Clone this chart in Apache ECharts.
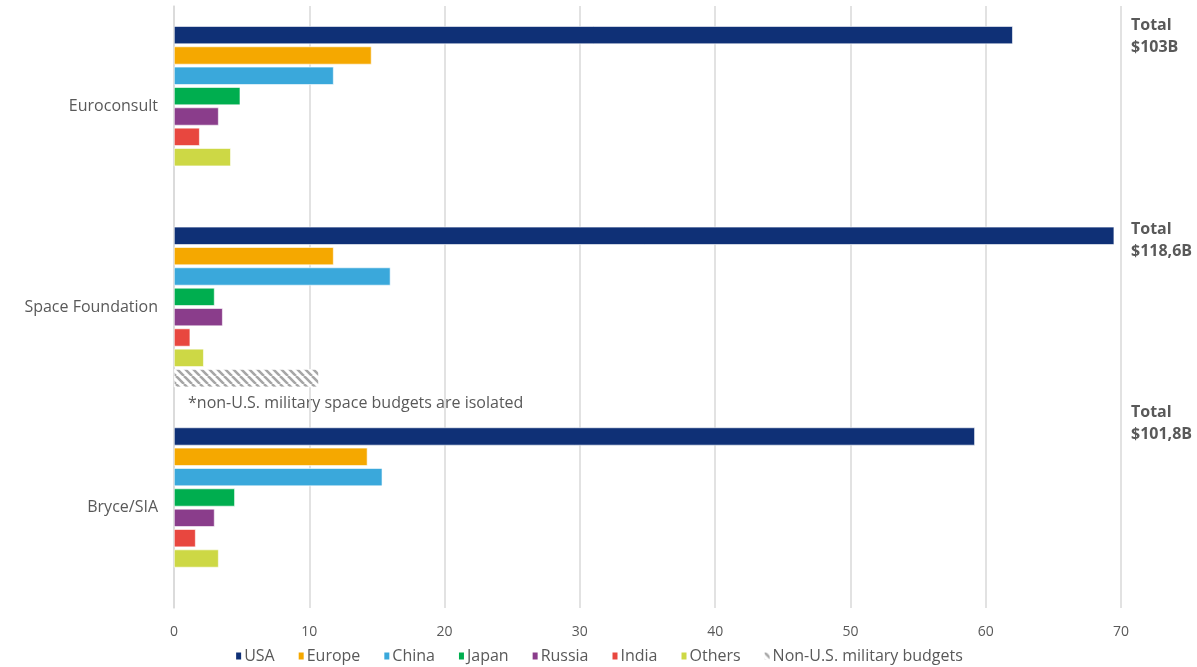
<!DOCTYPE html>
<html>
<head>
<meta charset="utf-8">
<script src="https://cdn.jsdelivr.net/npm/echarts@6/dist/echarts.min.js"></script>
<style>
  html, body { margin: 0; padding: 0; background: #fff; }
  #chart { width: 1197px; height: 667px; }
</style>
</head>
<body>
<div id="chart"></div>
<script>
// Space budget estimates (billion USD) by source
const sources = ['Euroconsult', 'Space Foundation', 'Bryce/SIA'];
const usa      = [62.0, 69.5, 59.2];
const europe   = [14.6, 11.8, 14.3];
const china    = [11.8, 16.0, 15.4];
const japan    = [4.9, 3.0, 4.5];
const russia   = [3.3, 3.6, 3.0];
const india    = [1.9, 1.2, 1.6];
const others   = [4.2, 2.2, 3.3];
const military = [null, 10.7, null];
const totals   = ['$103B', '$118,6B', '$101,8B'];
const xTicks   = { min: 0, max: 70, step: 10 };

const TEXT = '#595959';
const FONT = '"Open Sans", "Noto Sans", sans-serif';

// Diagonal hatch fill for the isolated military budgets
function hatch() {
  const c = document.createElement('canvas');
  c.width = 8; c.height = 8;
  const g = c.getContext('2d');
  g.fillStyle = '#ffffff';
  g.fillRect(0, 0, 8, 8);
  g.strokeStyle = '#a6a6a6';
  g.lineWidth = 2.6;
  g.beginPath();
  for (let k = -8; k <= 16; k += 8) {
    g.moveTo(k, 0);
    g.lineTo(k + 8, 8);
  }
  g.stroke();
  return { image: c, repeat: 'repeat' };
}

const seriesDefs = [
  ['USA', usa, '#0f3076'],
  ['Europe', europe, '#f5a800'],
  ['China', china, '#3aa8db'],
  ['Japan', japan, '#00ae4f'],
  ['Russia', russia, '#8a3d8b'],
  ['India', india, '#e8473f'],
  ['Others', others, '#cdd845'],
  ['Non-U.S. military budgets', military, hatch()]
];

const chart = echarts.init(document.getElementById('chart'), null, { renderer: 'canvas' });

chart.setOption({
  animation: false,
  textStyle: { fontFamily: FONT },
  grid: { left: 174, right: 76, top: 6, bottom: 59, containLabel: false },
  xAxis: {
    type: 'value',
    min: xTicks.min, max: xTicks.max, interval: xTicks.step,
    axisLine: { show: false },
    axisTick: { show: false },
    axisLabel: { color: TEXT, fontSize: 14, margin: 17, fontFamily: FONT },
    splitLine: { lineStyle: { color: '#d9d9d9', width: 1.5 } }
  },
  yAxis: {
    type: 'category',
    data: sources,
    inverse: true,
    axisLine: { show: true, lineStyle: { color: '#d9d9d9', width: 1.5 } },
    axisTick: { show: false },
    axisLabel: { color: TEXT, fontSize: 16, margin: 16, fontFamily: FONT }
  },
  legend: {
    bottom: -2,
    left: 'center',
    itemWidth: 7,
    itemHeight: 9,
    itemGap: 22,
    icon: 'rect',
    textStyle: { color: TEXT, fontSize: 16, fontFamily: FONT, padding: [0, 0, 0, -3] },
    data: seriesDefs.map(d => d[0])
  },
  series: seriesDefs.map(([name, values, color]) => ({
    name,
    type: 'bar',
    data: values,
    barWidth: 18,
    barGap: '13%',
    barCategoryGap: '20%',
    itemStyle: { color, borderColor: '#ffffff', borderWidth: 0.6 }
  })),
  graphic: [
    {
      type: 'text', left: 188, top: 395,
      style: { text: '*non-U.S. military space budgets are isolated', fill: TEXT, fontSize: 16, fontFamily: FONT }
    },
    ...totals.map((t, i) => ({
      type: 'text', left: 1131, top: [14, 218, 401][i],
      style: {
        text: 'Total\n' + t, fill: TEXT,
        fontSize: 16, fontWeight: 'bold', fontFamily: FONT, lineHeight: 22
      }
    }))
  ]
});
</script>
</body>
</html>
